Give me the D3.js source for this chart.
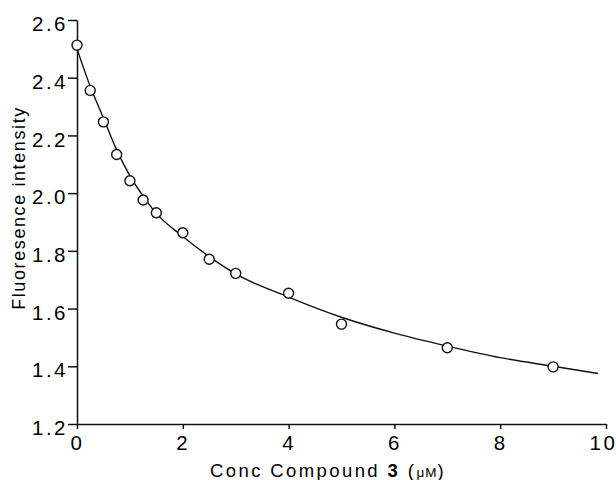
<!DOCTYPE html>
<html>
<head>
<meta charset="utf-8">
<script src="https://cdn.jsdelivr.net/npm/d3@7"></script>
<style>
  body { margin: 0; background: #fff; }
  text { font-family: "Liberation Sans", Arial, sans-serif; fill: #000; }
</style>
</head>
<body>
<script>
// measured points
var concX = [0, 0.25, 0.5, 0.75, 1, 1.25, 1.5, 2, 2.5, 3, 4, 5, 7, 9];
var fluorY = [2.513, 2.356, 2.247, 2.134, 2.043, 1.976, 1.932, 1.863, 1.771, 1.722, 1.653, 1.546, 1.464, 1.398];

// fitted curve
var fitX = [0, 0.25, 0.5, 0.75, 1, 1.25, 1.5, 2, 2.5, 3, 4, 5, 6, 7, 8, 9, 9.85];
var fitY = [2.50, 2.37, 2.26, 2.15, 2.06, 1.99, 1.93, 1.85, 1.78, 1.72, 1.64, 1.57, 1.515, 1.47, 1.43, 1.40, 1.375];

var xTicks = [0, 2, 4, 6, 8, 10];
var yTicks = [1.2, 1.4, 1.6, 1.8, 2.0, 2.2, 2.4, 2.6];

var width = 616, height = 480;
var margin = {left: 77, right: 10, top: 20, bottom: 56};

var svg = d3.select("body").append("svg")
  .attr("width", width)
  .attr("height", height);

var x = d3.scaleLinear().domain([0, 10]).range([margin.left, width - margin.right]);
var y = d3.scaleLinear().domain([1.2, 2.6]).range([height - margin.bottom, margin.top]);

var xAxis = svg.append("g")
  .attr("transform", "translate(0," + y(1.2) + ")")
  .call(d3.axisBottom(x).tickValues(xTicks).tickFormat(d3.format("d")).tickSize(5).tickPadding(6).tickSizeOuter(0));

var yAxis = svg.append("g")
  .attr("transform", "translate(" + x(0) + ",0)")
  .call(d3.axisLeft(y).tickValues(yTicks).tickFormat(d3.format(".1f")).tickSize(9).tickPadding(0).tickSizeOuter(0));

svg.selectAll(".domain, .tick line").attr("stroke", "#111").attr("stroke-width", 1.5);
svg.selectAll(".tick text")
  .style("font-size", "20.5px")
  .style("letter-spacing", "2.5px")
  .attr("fill", "#000");
yAxis.selectAll(".tick text").attr("dy", "0.52em");
xAxis.selectAll(".tick text").filter(function(d) { return d === 10; }).attr("dx", -3);

// fit line
var pts = fitX.map(function(d, i) { return [d, fitY[i]]; });
var line = d3.line()
  .x(function(d) { return x(d[0]); })
  .y(function(d) { return y(d[1]); })
  .curve(d3.curveMonotoneX);

svg.append("path")
  .datum(pts)
  .attr("d", line)
  .attr("fill", "none")
  .attr("stroke", "#111")
  .attr("stroke-width", 1.4);

// open circles
var data = concX.map(function(d, i) { return {x: d, y: fluorY[i]}; });
svg.selectAll("circle.pt").data(data)
  .enter().append("circle")
  .attr("class", "pt")
  .attr("cx", function(d) { return x(d.x); })
  .attr("cy", function(d) { return y(d.y); })
  .attr("r", 5)
  .attr("fill", "#fff")
  .attr("stroke", "#111")
  .attr("stroke-width", 1.4);

// axis titles
svg.append("text")
  .attr("transform", "translate(25,208) rotate(-90)")
  .attr("text-anchor", "middle")
  .style("font-size", "18px")
  .style("letter-spacing", "1.6px")
  .text("Fluoresence intensity");

var xl = svg.append("text")
  .attr("x", 328)
  .attr("y", 477)
  .attr("text-anchor", "middle")
  .style("font-size", "18.5px")
  .style("letter-spacing", "2.4px");
xl.append("tspan").text("Conc Compound ");
xl.append("tspan").style("font-weight", "bold").text("3");
xl.append("tspan").text(" (");
xl.append("tspan").style("font-size", "13.5px").style("letter-spacing", "1px").text("\u03bcM");
xl.append("tspan").text(")");
</script>
</body>
</html>
